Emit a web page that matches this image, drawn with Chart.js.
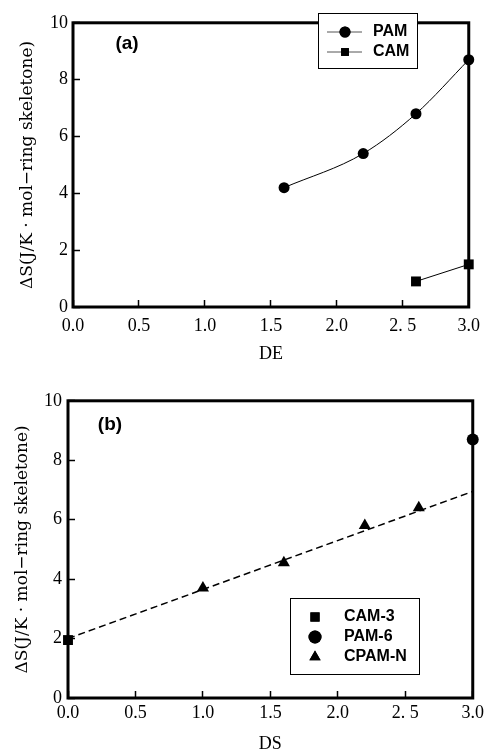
<!DOCTYPE html>
<html>
<head>
<meta charset="utf-8">
<script src="https://cdn.jsdelivr.net/npm/chart.js@4.4.1/dist/chart.umd.min.js"></script>
<style>
    html, body { margin: 0; padding: 0; background: #fff; }
    canvas { display: block; }
</style>
</head>
<body>
<canvas id="chart-a" width="495" height="377"></canvas>
<canvas id="chart-b" width="495" height="377"></canvas>
<script>
// Graduations communes
const yTickLabels = ['0', '2', '4', '6', '8', '10'];
const xTickLabels = ['0.0', '0.5', '1.0', '1.5', '2.0', '2. 5', '3.0'];

// Panneau (a) : ΔS en fonction de DE
const pamDE = [1.6, 2.2, 2.6, 3.0];
const pamS = [4.2, 5.4, 6.8, 8.7];
const camDE = [2.6, 3.0];
const camS = [0.9, 1.5];

// Panneau (b) : ΔS en fonction de DS
const cam3DS = [0.0];
const cam3S = [1.95];
const pam6DS = [3.0];
const pam6S = [8.7];
const cpamDS = [1.0, 1.6, 2.2, 2.6];
const cpamS = [3.7, 4.55, 5.8, 6.4];
const fitDS = [0.0, 3.0];
const fitS = [2.0, 6.95];

const Y_TITLE = 'ΔS(J/K · mol−ring skeletone)';
const SERIF = "'Liberation Serif', 'DejaVu Serif', serif";
const WIDE_SERIF = "'DejaVu Serif', 'Liberation Serif', serif";
const SANS = "'Liberation Sans', Arial, sans-serif";

function toPoints(xs, ys) {
    return xs.map((x, i) => ({ x: x, y: ys[i] }));
}

/**
 * Cadre épais autour de la zone de tracé
 */
const framePlugin = {
    id: 'frame',
    beforeDatasetsDraw(chart) {
        const { ctx, chartArea: a } = chart;
        ctx.save();
        ctx.strokeStyle = '#000';
        ctx.lineWidth = 3;
        ctx.strokeRect(a.left, a.top, a.right - a.left, a.bottom - a.top);
        ctx.restore();
    }
};

/**
 * Étiquette du panneau, ex. "(a)"
 */
const panelLabelPlugin = {
    id: 'panelLabel',
    afterDraw(chart, args, opts) {
        const ctx = chart.ctx;
        ctx.save();
        ctx.fillStyle = '#000';
        ctx.font = 'bold 19px ' + SANS;
        ctx.textAlign = 'center';
        ctx.textBaseline = 'middle';
        ctx.fillText(opts.text, opts.x, opts.y);
        ctx.restore();
    }
};

/**
 * Légende encadrée dessinée à la main
 */
const boxLegendPlugin = {
    id: 'boxLegend',
    afterDraw(chart, args, opts) {
        const ctx = chart.ctx;
        const b = opts.box;
        ctx.save();
        ctx.fillStyle = '#fff';
        ctx.fillRect(b.x, b.y, b.w, b.h);
        ctx.strokeStyle = '#000';
        ctx.lineWidth = 1;
        ctx.strokeRect(b.x + 0.5, b.y + 0.5, b.w, b.h);

        let row = 0;
        chart.data.datasets.forEach(ds => {
            if (!ds.label) return;
            const y = opts.firstRow + row * opts.rowGap;
            if (opts.withLine) {
                ctx.strokeStyle = '#555';
                ctx.lineWidth = 1;
                ctx.beginPath();
                ctx.moveTo(opts.lineFrom, y);
                ctx.lineTo(opts.lineTo, y);
                ctx.stroke();
            }
            ctx.fillStyle = '#000';
            Chart.helpers.drawPoint(ctx, {
                pointStyle: ds.pointStyle,
                radius: opts.markerRadius,
                rotation: 0,
                borderWidth: 0
            }, opts.markerX, y);
            ctx.fill();
            ctx.fillStyle = '#000';
            ctx.font = 'bold 16px ' + SANS;
            ctx.textAlign = 'left';
            ctx.textBaseline = 'middle';
            ctx.fillText(ds.label, opts.textX, y);
            row++;
        });
        ctx.restore();
    }
};

function buildScales(xTitle, layout) {
    return {
        x: {
            type: 'linear',
            min: 0,
            max: 3,
            border: { display: false },
            grid: {
                drawOnChartArea: false,
                drawTicks: true,
                tickLength: -7,
                tickWidth: 1.5,
                tickColor: '#000'
            },
            ticks: {
                stepSize: 0.5,
                padding: layout.xTickPad,
                color: '#000',
                font: { family: SERIF, size: 18 },
                maxRotation: 0,
                callback: function(value) {
                    return xTickLabels[Math.round(value / 0.5)];
                }
            },
            title: {
                display: true,
                text: xTitle,
                color: '#000',
                font: { family: SERIF, size: 18 },
                padding: { top: 0, bottom: layout.xTitlePad }
            },
            afterFit: function(scale) { scale.height = layout.xHeight; }
        },
        y: {
            type: 'linear',
            min: 0,
            max: 10,
            border: { display: false },
            grid: {
                drawOnChartArea: false,
                drawTicks: true,
                tickLength: -7,
                tickWidth: 1.5,
                tickColor: '#000'
            },
            ticks: {
                stepSize: 2,
                padding: layout.yTickPad,
                color: '#000',
                font: { family: SERIF, size: 18 },
                callback: function(value) {
                    return yTickLabels[Math.round(value / 2)];
                }
            },
            title: {
                display: true,
                text: Y_TITLE,
                color: '#000',
                font: { family: WIDE_SERIF, size: 17 },
                padding: { top: layout.yTitlePad, bottom: 0 }
            },
            afterFit: function(scale) { scale.width = layout.yWidth; }
        }
    };
}

function initChartA() {
    const ctx = document.getElementById('chart-a').getContext('2d');
    new Chart(ctx, {
        type: 'scatter',
        data: {
            datasets: [
                {
                    label: 'PAM',
                    data: toPoints(pamDE, pamS),
                    showLine: true,
                    cubicInterpolationMode: 'monotone',
                    borderColor: '#000',
                    borderWidth: 1,
                    backgroundColor: '#000',
                    pointStyle: 'circle',
                    pointRadius: 5.5,
                    pointBorderWidth: 0,
                    clip: false
                },
                {
                    label: 'CAM',
                    data: toPoints(camDE, camS),
                    showLine: true,
                    borderColor: '#000',
                    borderWidth: 1,
                    backgroundColor: '#000',
                    pointStyle: 'rect',
                    pointRadius: 7,
                    pointBorderWidth: 0,
                    clip: false
                }
            ]
        },
        options: {
            responsive: false,
            animation: false,
            devicePixelRatio: 1,
            layout: { padding: { top: 11, right: 10, left: 0, bottom: 0 } },
            plugins: {
                legend: { display: false },
                tooltip: { enabled: false },
                panelLabel: { text: '(a)', x: 127, y: 44 },
                boxLegend: {
                    box: { x: 318, y: 13, w: 99, h: 55 },
                    withLine: true,
                    lineFrom: 327,
                    lineTo: 362,
                    markerX: 345,
                    markerRadius: 5.5,
                    textX: 373,
                    firstRow: 32,
                    rowGap: 20
                }
            },
            scales: buildScales('DE', {
                xHeight: 70, yWidth: 73,
                xTickPad: 15, yTickPad: 12,
                xTitlePad: 12, yTitlePad: 17
            })
        },
        plugins: [framePlugin, panelLabelPlugin, boxLegendPlugin]
    });
}

function initChartB() {
    const ctx = document.getElementById('chart-b').getContext('2d');
    new Chart(ctx, {
        type: 'scatter',
        data: {
            datasets: [
                {
                    label: '',
                    data: toPoints(fitDS, fitS),
                    showLine: true,
                    borderColor: '#000',
                    borderWidth: 1.5,
                    borderDash: [7, 4],
                    pointRadius: 0,
                    clip: false
                },
                {
                    label: 'CAM-3',
                    data: toPoints(cam3DS, cam3S),
                    backgroundColor: '#000',
                    pointStyle: 'rect',
                    pointRadius: 7,
                    pointBorderWidth: 0,
                    clip: false
                },
                {
                    label: 'PAM-6',
                    data: toPoints(pam6DS, pam6S),
                    backgroundColor: '#000',
                    pointStyle: 'circle',
                    pointRadius: 6,
                    pointBorderWidth: 0,
                    clip: false
                },
                {
                    label: 'CPAM-N',
                    data: toPoints(cpamDS, cpamS),
                    backgroundColor: '#000',
                    pointStyle: 'triangle',
                    pointRadius: 7,
                    pointBorderWidth: 0,
                    clip: false
                }
            ]
        },
        options: {
            responsive: false,
            animation: false,
            devicePixelRatio: 1,
            layout: { padding: { top: 20, right: 9, left: 0, bottom: 0 } },
            plugins: {
                legend: { display: false },
                tooltip: { enabled: false },
                panelLabel: { text: '(b)', x: 110, y: 48 },
                boxLegend: {
                    box: { x: 290, y: 221, w: 129, h: 76 },
                    withLine: false,
                    markerX: 315,
                    markerRadius: 6.5,
                    textX: 344,
                    firstRow: 240,
                    rowGap: 20
                }
            },
            scales: buildScales('DS', {
                xHeight: 56, yWidth: 68,
                xTickPad: 11, yTickPad: 13,
                xTitlePad: -1, yTitlePad: 12
            })
        },
        plugins: [framePlugin, panelLabelPlugin, boxLegendPlugin]
    });
}

document.addEventListener('DOMContentLoaded', function() {
    initChartA();
    initChartB();
});
</script>
</body>
</html>
